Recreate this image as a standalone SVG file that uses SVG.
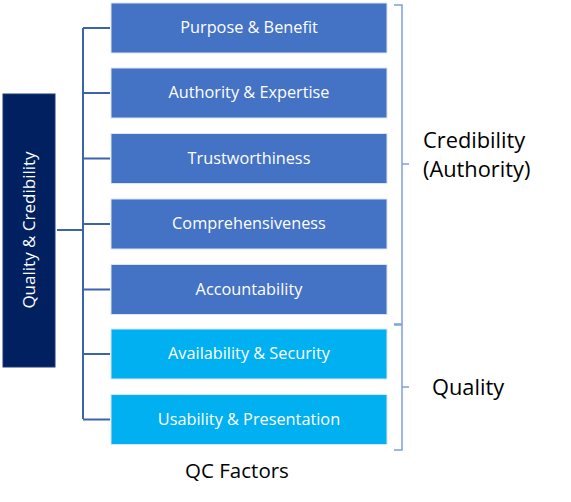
<svg xmlns="http://www.w3.org/2000/svg" width="571" height="502" viewBox="0 0 571 502">
<style>
.box{stroke:#DCE6F5;stroke-width:1}
.blue{fill:#4472C4}
.cyan{fill:#00B0F0}
.bt{font-family:"Open Sans","Liberation Sans",Arial,sans-serif;font-size:16.3px;fill:#FFFFFF;text-anchor:middle}
.lbl{font-family:"Open Sans","Liberation Sans",Arial,sans-serif;font-size:21.8px;fill:#000000}
.conn{stroke:#3D63AE;stroke-width:2;fill:none}
.brace{stroke:#7F9FDB;stroke-width:1.5;fill:none}
</style>
<rect width="571" height="502" fill="#FFFFFF"/>
<g id="connectors">
<path class="conn" d="M57 230 H83"/>
<path class="conn" d="M83 28 V419"/>
<path class="conn" d="M83 28 H110 M83 93 H110 M83 158.5 H110 M83 224 H110 M83 289.5 H110 M83 354 H110 M83 419.5 H110"/>
</g>
<g id="root">
<rect x="3" y="94" width="52" height="273" fill="#002060" stroke="#1F3A73" stroke-width="1"/>
<text class="bt" transform="translate(35 230) rotate(-90)" style="font-size:17px">Quality &amp; Credibility</text>
</g>
<g id="n1"><rect class="box blue" x="111" y="3" width="276" height="50"/><text class="bt" x="249" y="33">Purpose &amp; Benefit</text></g>
<g id="n2"><rect class="box blue" x="111" y="68" width="276" height="50"/><text class="bt" x="249" y="98">Authority &amp; Expertise</text></g>
<g id="n3"><rect class="box blue" x="111" y="133.5" width="276" height="50"/><text class="bt" x="249" y="163.5">Trustworthiness</text></g>
<g id="n4"><rect class="box blue" x="111" y="199" width="276" height="50"/><text class="bt" x="249" y="229">Comprehensiveness</text></g>
<g id="n5"><rect class="box blue" x="111" y="264.5" width="276" height="50"/><text class="bt" x="249" y="294.5">Accountability</text></g>
<g id="n6"><rect class="box cyan" x="111" y="329" width="276" height="50"/><text class="bt" x="249" y="359">Availability &amp; Security</text></g>
<g id="n7"><rect class="box cyan" x="111" y="394.5" width="276" height="50"/><text class="bt" x="249" y="424.5">Usability &amp; Presentation</text></g>
<g id="brace1">
<path class="brace" d="M394 5 H402 V164 M402 164 H409 M402 164 V324 H394"/>
<text class="lbl" x="423" y="148">Credibility</text>
<text class="lbl" x="423" y="177">(Authority)</text>
</g>
<g id="brace2">
<path class="brace" d="M394 325 H402 V387 M402 387 H409 M402 387 V450 H394"/>
<text class="lbl" x="432" y="395">Quality</text>
</g>
<g id="caption">
<text class="lbl" x="237" y="478" text-anchor="middle" style="font-size:20.5px">QC Factors</text>
</g>
</svg>
